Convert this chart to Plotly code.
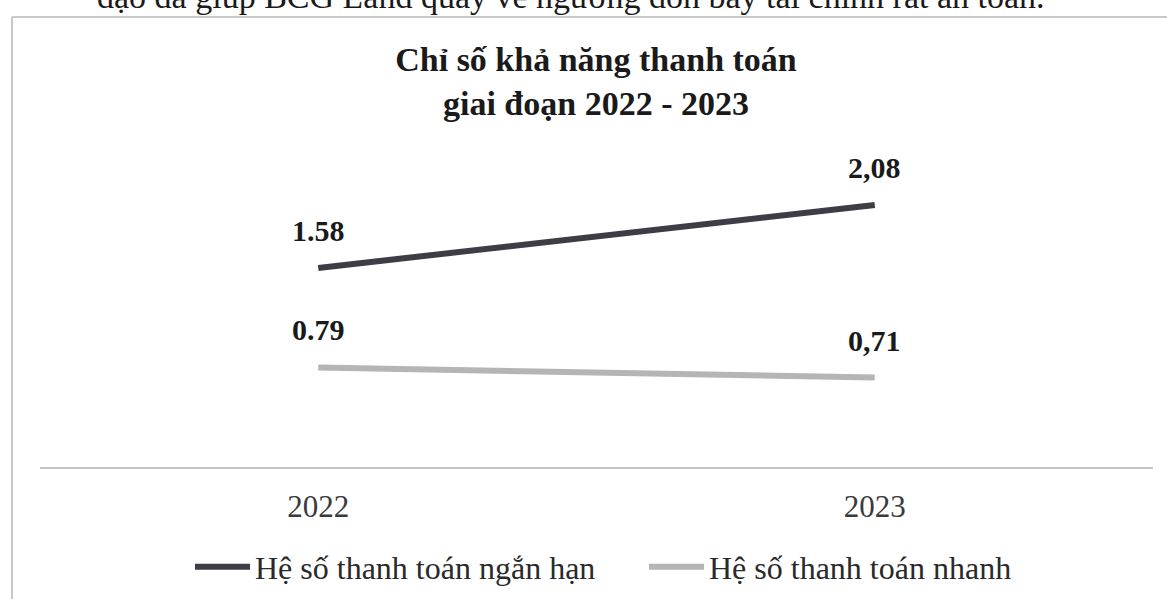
import plotly.graph_objects as go

years = ["2022", "2023"]
current_ratio = [1.58, 2.08]
quick_ratio = [0.79, 0.71]
current_labels = ["1.58", "2,08"]
quick_labels = ["0.79", "0,71"]
series_names = ["Hệ số thanh toán ngắn hạn", "Hệ số thanh toán nhanh"]
title_text = "Chỉ số khả năng thanh toán<br>giai đoạn 2022 - 2023"
top_text = "đạo đã giúp BCG Land quay về ngưỡng đòn bẩy tài chính rất an toàn."

SERIF = "Liberation Serif, Times New Roman, serif"
DARK = "#3d3d45"
LIGHT = "#b5b5b5"

fig = go.Figure()
fig.add_trace(go.Scatter(x=years, y=current_ratio, mode="lines", name=series_names[0],
                         line=dict(color=DARK, width=6)))
fig.add_trace(go.Scatter(x=years, y=quick_ratio, mode="lines", name=series_names[1],
                         line=dict(color=LIGHT, width=6)))

annotations = []
for ys, ls in [(current_ratio, current_labels), (quick_ratio, quick_labels)]:
    for i, (yv, lv) in enumerate(zip(ys, ls)):
        annotations.append(dict(x=i, y=yv, text=lv, showarrow=False, yanchor="bottom",
                                xanchor="center", yshift=19,
                                font=dict(family=SERIF, size=30, color="#1a1a1a", weight="bold")))

def px_x(p):
    return (p - 40) / 1113

def px_y(p):
    return (467 - p) / 315

annotations.append(dict(xref="paper", yref="paper", x=px_x(571), y=px_y(17),
                        xanchor="center", yanchor="bottom", text=top_text, showarrow=False,
                        font=dict(family=SERIF, size=34, color="#1a1a1a")))

shapes = [
    dict(type="line", xref="paper", yref="paper", x0=px_x(12), x1=px_x(12), y0=px_y(17), y1=px_y(600),
         line=dict(color="#c8c8c8", width=2)),
    dict(type="line", xref="paper", yref="paper", x0=px_x(12), x1=px_x(1167), y0=px_y(17), y1=px_y(17),
         line=dict(color="#c8c8c8", width=2)),
]

fig.update_layout(
    width=1167, height=599,
    margin=dict(l=40, r=14, t=152, b=132, autoexpand=False),
    paper_bgcolor="white", plot_bgcolor="white",
    title=dict(text=title_text, x=596 / 1167, xanchor="center", y=1 - 71 / 599, yanchor="top",
               font=dict(family=SERIF, size=34, color="#1a1a1a", weight="bold")),
    xaxis=dict(type="category", range=[-0.5, 1.5], showgrid=False, zeroline=False, showline=True,
               linecolor="#c4c4c4", linewidth=2, ticks="",
               tickfont=dict(family=SERIF, size=31, color="#3a3a3a"), ticklabelstandoff=11),
    yaxis=dict(range=[0, 2.5], visible=False, showgrid=False, zeroline=False),
    showlegend=True,
    legend=dict(orientation="h", x=px_x(190), xanchor="left", y=px_y(567), yanchor="middle",
                itemwidth=55, entrywidth=384,
                font=dict(family=SERIF, size=32, color="#2a2a2a"), bgcolor="rgba(0,0,0,0)"),
    annotations=annotations,
    shapes=shapes,
)

fig.write_html("out.html")
